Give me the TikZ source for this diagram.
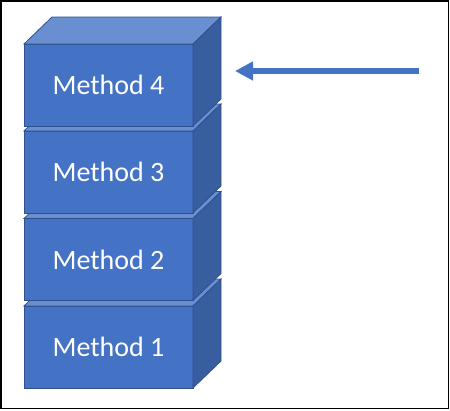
\documentclass[tikz,border=0pt]{standalone}
\usepackage{fontspec}
\setmainfont{Carlito}
\usetikzlibrary{arrows.meta}
\definecolor{frontc}{HTML}{4472C4}
\definecolor{topc}{HTML}{6A8FD1}
\definecolor{sidec}{HTML}{385E9F}
\definecolor{edgec}{HTML}{2F528F}
\tikzset{
  face/.style={draw=edgec, line width=0.8pt, line join=miter},
  lbl/.style={text=white, font=\fontsize{28}{34}\selectfont, inner sep=0pt},
  bigarrow/.style={draw=frontc, line width=6pt, -{Triangle[length=18pt,width=18pt]}}
}
\begin{document}
\begin{tikzpicture}[x=1pt,y=-1pt]
\useasboundingbox (0,0) rectangle (450,410);
\draw[black, line width=1.5pt] (0.75,0.75) rectangle (448.5,408.5);
\def\dx{28}\def\dy{27}
\foreach \k/\t in {1/306,2/218.5,3/131,4/44}{
  \pgfmathsetmacro{\b}{\t+82}
  \fill[frontc, face] (24,\t) rectangle (193,\b);
  \fill[topc, face] (24,\t) -- (193,\t) -- (193+\dx,\t-\dy) -- (24+\dx,\t-\dy) -- cycle;
  \fill[sidec, face] (193,\t) -- (193+\dx,\t-\dy) -- (193+\dx,\b-\dy) -- (193,\b) -- cycle;
  \node[lbl] (m\k) at (108.5,{(\t+\b)/2}) {Method \k};
}
\coordinate (tail) at (419,71);
\coordinate (tip) at (235,71);
\draw[bigarrow] (tail) -- (tip);
\end{tikzpicture}
\end{document}
